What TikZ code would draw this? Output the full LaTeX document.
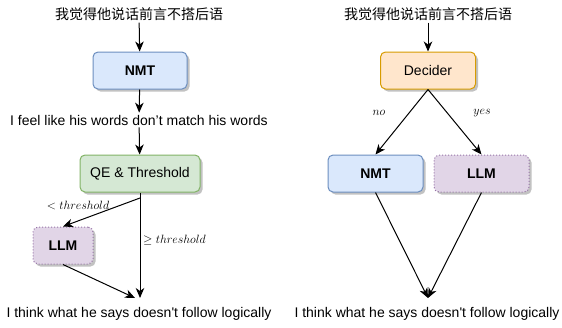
\documentclass[tikz,border=0pt]{standalone}
\usepackage{fontspec}
\setmainfont{Liberation Sans}
\newfontfamily\zh{Noto Sans CJK SC}
\usetikzlibrary{arrows.meta,shadows,calc}
\definecolor{bfill}{HTML}{DAE8FC}\definecolor{bdraw}{HTML}{6C8EBF}
\definecolor{gfill}{HTML}{D5E8D4}\definecolor{gdraw}{HTML}{82B366}
\definecolor{pfill}{HTML}{E1D5E7}\definecolor{pdraw}{HTML}{9673A6}
\definecolor{ofill}{HTML}{FFE6CC}\definecolor{odraw}{HTML}{D79B00}
\begin{document}
\begin{tikzpicture}[x=1pt,y=-1pt,
  txt/.style={inner sep=2pt, font=\fontsize{14}{16}\selectfont},
  lab/.style={inner sep=1pt, font=\fontsize{12}{14}\selectfont},
  box/.style={rounded corners=5pt, minimum height=37pt, line width=1pt, inner sep=2pt,
    font=\fontsize{14}{16}\selectfont,
    drop shadow={shadow xshift=2.5pt, shadow yshift=-2.5pt, fill=black!40, opacity=0.6}},
  nmtbox/.style={box, fill=bfill, draw=bdraw},
  qebox/.style={box, fill=gfill, draw=gdraw},
  llmbox/.style={box, fill=pfill, draw=pdraw, dotted},
  decbox/.style={box, fill=ofill, draw=odraw},
  arr/.style={line width=1pt, -{Stealth[length=10pt,width=8.5pt,inset=3pt]}},
  ln/.style={line width=1pt}]
\useasboundingbox (0,0) rectangle (562,327);

% left panel
\node[txt] (zh1) at (139,14) {\zh 我觉得他说话前言不搭后语};
\node[nmtbox, minimum width=94pt] (nmt1) at (140,70.5) {\textbf{NMT}};
\node[txt] (mid) at (139,120) {I feel like his words don’t match his words};
\node[qebox, minimum width=120pt] (qe) at (140,173.5) {QE \& Threshold};
\node[llmbox, minimum width=60pt] (llm1) at (63,245.5) {\textbf{LLM}};
\node[txt] (out1) at (139,314) {I think what he says doesn\textquotesingle t follow logically};
\coordinate (j1) at (140,298);
\coordinate (j1b) at (135,298);
\coordinate (br) at (140,198);

\draw[arr] (zh1) -- (nmt1);
\draw[arr] (nmt1) -- (mid);
\draw[arr] (mid) -- (qe);
\draw[arr] (qe.south) -- (j1);
\draw[arr] (br) -- (llm1.north);
\draw[arr] (llm1.south) -- (j1b);
\node[lab] (lt) at (78,205) {$<threshold$};
\node[lab, anchor=west] (ge) at (142,240) {$\geq threshold$};

% right panel
\node[txt] (zh2) at (428,14) {\zh 我觉得他说话前言不搭后语};
\node[decbox, minimum width=95pt] (dec) at (428,70.5) {Decider};
\node[nmtbox, minimum width=95pt] (nmt2) at (375.5,173.5) {\textbf{NMT}};
\node[llmbox, minimum width=95pt] (llm2) at (481.5,173.5) {\textbf{LLM}};
\node[txt] (out2) at (427,314) {I think what he says doesn\textquotesingle t follow logically};
\coordinate (j2) at (428,298);

\draw[arr] (zh2) -- (dec);
\draw[arr] (dec.south) -- (nmt2.north);
\draw[arr] (dec.south) -- (llm2.north);
\draw[arr] (nmt2.south) -- (j2);
\draw[arr] (llm2.south) -- (j2);
\node[lab] (no) at (379,113) {$no$};
\node[lab] (yes) at (482,113) {$yes$};
\end{tikzpicture}
\end{document}
